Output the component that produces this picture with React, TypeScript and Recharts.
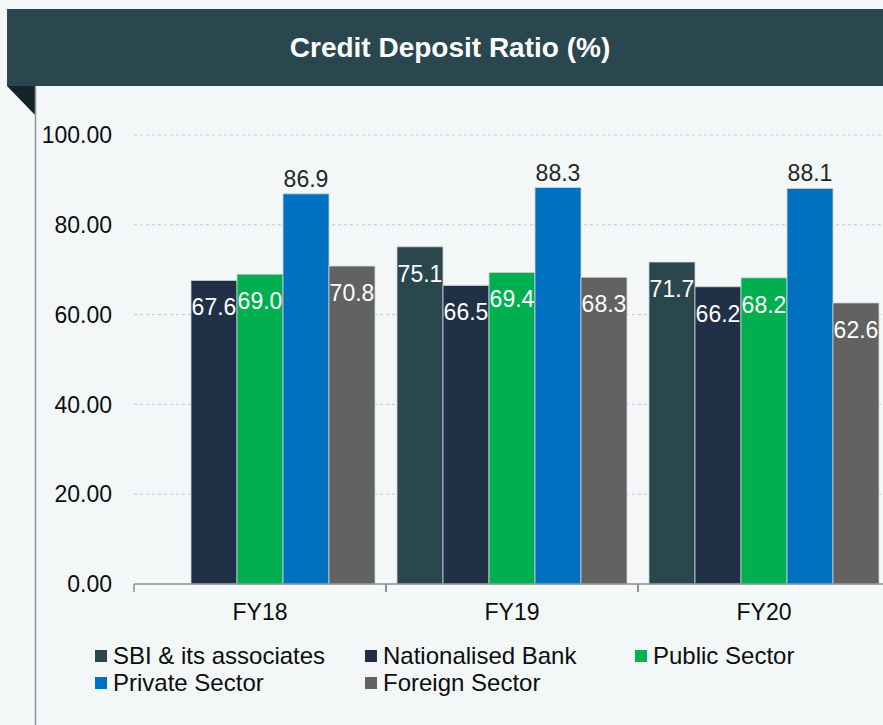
import React from "react";
import {
  BarChart,
  Bar,
  XAxis,
  YAxis,
  CartesianGrid,
  LabelList,
} from "recharts";

const FONT = "'Liberation Sans', Arial, sans-serif";

const categories = ["FY18", "FY19", "FY20"];
const sbiValues = [0.0, 75.1, 71.7];
const nationalisedValues = [67.6, 66.5, 66.2];
const publicValues = [69.0, 69.4, 68.2];
const privateValues = [86.9, 88.3, 88.1];
const foreignValues = [70.8, 68.3, 62.6];
const yTicks = [0, 20, 40, 60, 80, 100];

const series = [
  { key: "sbi", name: "SBI & its associates", color: "#29474c", values: sbiValues, outside: false },
  { key: "nationalised", name: "Nationalised Bank", color: "#203147", values: nationalisedValues, outside: false },
  { key: "public", name: "Public Sector", color: "#00b050", values: publicValues, outside: false },
  { key: "private", name: "Private Sector", color: "#0070c0", values: privateValues, outside: true },
  { key: "foreign", name: "Foreign Sector", color: "#626262", values: foreignValues, outside: false },
];

const chartData = categories.map((cat, i) => {
  const row: Record<string, string | number> = { category: cat };
  for (const s of series) row[s.key] = s.values[i];
  return row;
});

function makeLabel(outside: boolean) {
  return (props: any) => {
    const { x, y, width, value } = props;
    const cx = Number(x) + Number(width) / 2;
    let ty: number;
    let fill = "#ffffff";
    if (outside) {
      ty = Number(y) - 7;
      fill = "#262626";
    } else if (Number(value) === 0) {
      // zero-height bar: Excel pushes the label just above the axis
      ty = Number(y) - 17;
    } else {
      ty = Number(y) + 35;
    }
    return (
      <text x={cx} y={ty} textAnchor="middle" fill={fill} fontSize={23} fontFamily={FONT}>
        {Number(value).toFixed(1)}
      </text>
    );
  };
}

function XTick(props: any) {
  const { x, y, payload } = props;
  const off = payload && payload.offset ? payload.offset : 126;
  return (
    <g>
      <line x1={x - off} y1={y} x2={x - off} y2={y + 8} stroke="#8c8c8c" strokeWidth={1.5} />
      <line x1={x + off} y1={y} x2={x + off} y2={y + 8} stroke="#8c8c8c" strokeWidth={1.5} />
      <text x={x} y={y + 36} textAnchor="middle" fill="#0d0d0d" fontSize={23} fontFamily={FONT}>
        {payload.value}
      </text>
    </g>
  );
}

export default function App() {
  return (
    <div
      style={{
        position: "absolute",
        left: 0,
        top: 0,
        width: 883,
        height: 725,
        overflow: "hidden",
        background: "#f3f7f8",
        fontFamily: FONT,
      }}
    >
      <div
        style={{
          position: "absolute",
          left: 7,
          top: 9,
          width: 886,
          height: 77,
          background: "#2a4750",
          color: "#ffffff",
          fontWeight: "bold",
          fontSize: 28,
          lineHeight: "77px",
          textAlign: "center",
        }}
      >
        Credit Deposit Ratio (%)
      </div>
      <svg
        width={883}
        height={725}
        style={{ position: "absolute", left: 0, top: 0 }}
      >
        <polygon points="7,86 35,86 35,115" fill="#16242a" />
        <line x1={35.5} y1={86} x2={35.5} y2={725} stroke="#8a979b" strokeWidth={1.5} />
      </svg>
      <div style={{ position: "absolute", left: 0, top: 0 }}>
        <BarChart
          width={1000}
          height={725}
          data={chartData}
          margin={{ top: 135, right: 110, left: 0, bottom: 101 }}
          barCategoryGap={11}
          barGap={0}
        >
          <CartesianGrid
            vertical={false}
            stroke="#c3c9cc"
            strokeDasharray="3 3"
            horizontalValues={[20, 40, 60, 80, 100]}
          />
          <XAxis
            dataKey="category"
            height={40}
            tickLine={false}
            tickSize={0}
            tickMargin={0}
            stroke="#8c8c8c"
            strokeWidth={1.5}
            tick={<XTick />}
            interval={0}
          />
          <YAxis
            width={134}
            domain={[0, 100]}
            ticks={yTicks}
            axisLine={false}
            tickLine={false}
            tickSize={0}
            tickMargin={22}
            tickFormatter={(v: number) => v.toFixed(2)}
            tick={{ fontSize: 23, fill: "#0d0d0d", fontFamily: FONT }}
          />
          {series.map((s) => (
            <Bar
              key={s.key}
              dataKey={s.key}
              name={s.name}
              fill={s.color}
              stroke="#cfd6d9"
              strokeWidth={0.8}
              isAnimationActive={false}
            >
              <LabelList dataKey={s.key} content={makeLabel(s.outside)} />
            </Bar>
          ))}
        </BarChart>
      </div>
      <div
        style={{
          position: "absolute",
          left: 95,
          top: 642,
          display: "grid",
          gridTemplateColumns: "270px 270px 240px",
          gridAutoRows: "27px",
          fontSize: 24,
          color: "#0d0d0d",
        }}
      >
        {series.map((s) => (
          <div key={s.key} style={{ display: "flex", alignItems: "center", whiteSpace: "nowrap" }}>
            <span
              style={{
                display: "inline-block",
                width: 12,
                height: 12,
                background: s.color,
                marginRight: 6,
              }}
            />
            <span>{s.name}</span>
          </div>
        ))}
      </div>
    </div>
  );
}
